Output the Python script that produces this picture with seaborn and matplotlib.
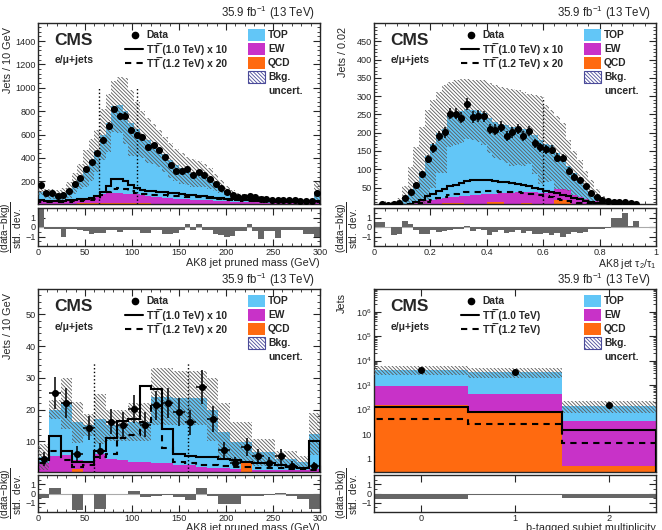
import numpy as np
import matplotlib
matplotlib.use('Agg')
import matplotlib.pyplot as plt
import seaborn as sns
from matplotlib.patches import Rectangle
from matplotlib.ticker import MultipleLocator, FixedLocator, FuncFormatter, NullFormatter

sns.set_style('ticks')
plt.rcParams['font.family'] = ['Liberation Sans', 'DejaVu Sans']
plt.rcParams['mathtext.fontset'] = 'custom'
plt.rcParams['mathtext.rm'] = 'Liberation Sans'
plt.rcParams['mathtext.it'] = 'Liberation Sans:italic'
plt.rcParams['mathtext.bf'] = 'Liberation Sans:bold'
plt.rcParams['hatch.linewidth'] = 0.6

c_top = '#62c6f7'
c_ew = '#c832c8'
c_qcd = '#ff6a10'
c_hatch = '#5a5a5a'
c_ratio = '#666666'
hatch_pat = '\\' * 9

# ---------------- panel 1 : pruned mass, 6 GeV bins
edges_p1 = np.linspace(0, 300, 51)
data_p1 = [166,100,100,75,80,118,172,231,302,365, 438,555,677,818,756,762,640,597,577,492,
           506,464,407,336,288,288,308,251,280,251, 217,180,146,109,81,67,67,70,61,52,
           44,41,38,38,38,35,33,33,33,100]
stack_top_p1 = [110,95,90,85,90,125,180,240,310,380, 460,600,700,840,850,800,700,650,600,550,
                520,480,430,380,340,310,290,270,260,250, 220,190,155,120,90,72,65,60,60,60,
                50,45,40,38,38,36,35,34,35,110]
stack_ew_p1 = [33,33,33,33,33,37,39,45,50,62, 79,90,95,97,97,94,91,87,81,75,
               69,64,60,56,52,49,46,43,40,37, 35,32,30,28,25,23,22,21,20,19,
               17,17,16,16,15,15,14,14,14,25]
stack_qcd_p1 = [8,8,8,8,8,9,9,10,10,12, 14,15,15,15,15,14,13,12,11,10,
                9,9,8,8,7,7,6,6,5,5, 5,4,4,4,3,3,3,3,3,3,
                2,2,2,2,2,2,2,2,2,5]
unc_p1 = [30,40,40,40,50,65,90,110,160,180, 180,220,250,220,240,280,280,230,200,190,
          170,160,150,150,140,130,120,120,110,100, 90,70,55,40,35,28,23,20,18,15,
          12,10,9,8,8,7,7,7,7,80]
sig1_p1 = [35,33,32,32,33,35,40,45,52,60, 75,110,160,220,220,205,170,140,125,120,
           115,110,105,100,95,90,85,80,75,70, 65,60,55,50,46,42,38,35,33,31,
           30,29,28,27,26,25,24,24,23,30]
sig2_p1 = [25,24,23,23,24,25,28,30,35,40, 50,80,105,135,140,135,120,100,92,88,
           85,82,80,77,74,71,68,65,62,59, 55,51,47,43,40,37,34,31,29,27,
           26,25,24,23,22,21,20,20,19,22]
ratio_p1 = [1.9,-0.2,-0.2,-0.2,-1.1,-0.2,-0.2,-0.3,-0.4,-0.7, -0.6,-0.6,-0.3,-0.3,-0.5,-0.3,-0.3,-0.3,-0.6,-0.6,
            -0.3,-0.3,-0.7,-0.7,-0.6,-0.3,0.3,-0.3,0.3,-0.3, -0.3,-0.7,-0.8,-1.0,-0.9,-0.4,-0.4,0.3,-0.4,-1.3,
            -0.4,-0.4,-1.2,-0.3,-0.3,-0.3,-0.3,-0.7,-0.7,-1.0]
cuts_p1 = [65, 105]

# ---------------- panel 2 : tau2/tau1, 0.02 bins
edges_p2 = np.linspace(0, 1, 51)
data_p2 = [0,5,3,6,9,22,39,57,86,128, 158,192,201,252,252,241,278,243,246,245,
           210,208,216,192,201,210,192,205,171,160, 155,153,132,130,96,80,71,53,34,25,
           16,12,11,10,11,8,5,0,0,0]
stack_top_p2 = [1,3,4,8,12,25,42,62,92,135, 170,200,210,250,255,260,265,262,260,255,
                240,230,225,220,215,215,210,210,195,180, 170,165,145,135,110,90,75,55,38,28,
                18,13,10,8,7,6,4,2,1,0.5]
stack_ew_p2 = [0.5,1,1.5,2,4,6,9,12,14,16, 17,19,21,23,25,27,28,29,30,31,
               32,33,34,35,36,37,38,39,38,35, 34,36,45,46,44,30,25,18,14,12,
               9,7,5,4,3,2,1.5,1,0.5,0.3]
stack_qcd_p2 = [0,0,0,0,0,0,0,0,2,2, 2,2,9,9,9,9,2,2,2,2,
                10,10,10,2,2,2,8,8,2,2, 2,2,17,17,17,2,2,2,2,2,
                2,0,0,0,0,0,0,0,0,0]
unc_p2 = [1,3,4,6,10,28,65,100,123,127, 120,110,120,90,90,87,82,83,85,88,
          95,100,100,102,105,103,100,95,107,120, 105,97,100,91,70,60,51,40,32,17,
          10,5,2,2,2,2,2,1,1,0.5]
sig1_p2 = [0,0,0.5,1,1.5,3,6,10,17,27, 33,40,47,53,58,63,67,70,72,72,
           71,69,66,64,62,60,57,53,49,45, 41,38,34,30,26,22,18,14,11,8,
           6,4,2.5,1.5,1,0.5,0.5,0.5,0.5,0.5]
sig2_p2 = [0,0,0,0,0,1,2,4,7,11, 16,21,25,29,32,35,37,38,39,40,
           40,40,39,39,38,37,35,33,31,29, 26,23,20,17,14,11,8,6,4,3,
           2,1,0.5,0.5,0.5,0.5,0.5,0.5,0.5,0.5]
ratio_p2 = [0.5,0.5,0.0,-0.8,-0.7,0.6,0.3,-0.3,-0.7,-0.7, -0.3,-0.5,-0.4,-0.3,-0.2,-0.2,0.1,-0.4,-0.2,-0.3,
            -0.8,-0.5,-0.3,-0.6,-0.5,-0.3,-0.6,-0.4,-0.7,-0.7, -0.6,-0.8,-0.6,-1.1,-0.7,-0.5,-0.6,-0.5,-0.2,-0.2,
            -0.2,-0.1,1.0,1.0,1.5,0.1,0.6,0.0,0.0,0.0]
cuts_p2 = [0.6]

# ---------------- panel 3 : pruned mass, 12 GeV bins
edges_p3 = np.linspace(0, 300, 26)
data_p3 = [4.4,25.2,22.1,6.0,14.1,6.9,16.2,15.2,20.2,15.2, 21.3,22.1,19.2,16.0,27.1,17.1,7.1,3.2,8.1,5.2,
           3.2,5.2,2.3,0,2.1]
stack_top_p3 = [5,20,22,16,15,17,15,15,16,16, 24,24,23.5,23.5,23.5,20,13,9.7,9.7,6.5,
                6.5,4.4,4.4,3.3,12.3]
stack_ew_p3 = [3,5.5,5.8,4,3,6,4.5,4,3.5,3.5, 3,3,2.5,2.5,2,1.5,1.5,1.2,3.5,1,
               1,1,0.8,0.8,1.2]
stack_qcd_p3 = [0.1,0.1,0.1,1.2,0.1,0.1,0.1,0.1,0.1,0.1, 0.1,0.1,0.1,0.1,0.1,0.1,0.1,0.1,3.0,0.1,
                0.1,0.1,0.1,0.1,0.1]
unc_p3 = [4,3,8,6.5,3.5,8,5,5,6,6, 9,9,8.5,8.5,8.5,10,9,6.3,6.3,4.2, 4.2,2.6,2.6,2.2,6.7]
sig1_p3 = [4.5,11.5,7,3.5,3.5,7,11,16.5,17,27.5, 26.5,14,6,5.5,5,5,4.5,4,3.5,3, 3,2.5,2,1.5,10]
sig2_p3 = [3,6.8,4,2,2.5,5,6,11,12,16, 21,8,3.5,3,2.5,2.5,2.2,2,1.8,1.5, 1.5,1.5,1.3,1.2,1]
ratio_p3 = [-0.5,0.6,-0.05,-1.8,0.0,-1.7,-0.1,-0.1,0.3,-0.4, -0.3,-0.2,-0.4,-0.7,0.6,-0.3,-1.1,-1.1,-0.3,-0.3,
            -0.2,0.1,-0.3,-0.6,-1.7]
cuts_p3 = [60, 160]

# ---------------- panel 4 : b-tagged subjet multiplicity
edges_p4 = np.array([-0.5, 0.5, 1.5, 2.5])
data_p4 = [4150, 3530, 155]
stack_top_p4 = [4300, 3400, 145]
stack_ew_p4 = [910, 413, 35]
stack_qcd_p4 = [160, 75, 0.5]
unc_p4 = [1700, 1500, 70]
sig1_p4 = [125, 78, 14.5]
sig2_p4 = [40, 26, 4.5]
ratio_p4 = [-0.6, -0.12, -0.45]

W, H = 662, 530
fig = plt.figure(figsize=(6.62, 5.30), dpi=100)


def px_axes(x0, y0, x1, y1):
    return fig.add_axes([x0 / W, 1 - y1 / H, (x1 - x0) / W, (y1 - y0) / H])


def style_ticks(ax):
    ax.tick_params(which='both', direction='in', top=True, right=True, labelsize=6.6, pad=1.5)
    ax.tick_params(which='major', length=5, width=0.8)
    ax.tick_params(which='minor', length=2.5, width=0.6)
    for s in ax.spines.values():
        s.set_linewidth(1.0)


def draw_panel(ax, axr, edges, data, st_top, st_ew, st_qcd, unc, sig1, sig2, ratio,
               ylim, xlim, cuts=None, cut_h=None, xerr=True, log=False):
    edges = np.asarray(edges, float)
    centers = 0.5 * (edges[:-1] + edges[1:])
    if log:
        ax.set_yscale('log')
    # stacked backgrounds: each layer drawn at its visible top edge
    for vals, col in [(st_top, c_top), (st_ew, c_ew), (st_qcd, c_qcd)]:
        sns.histplot(x=centers, weights=vals, bins=list(edges), element='step', fill=True,
                     color=col, alpha=1, linewidth=0, ax=ax)
    top = np.asarray(st_top, float)
    u = np.asarray(unc, float)
    low = np.maximum(top - u, ylim[0] * 0.5)
    ax.stairs(top + u, edges, baseline=low, fill=True, facecolor='none',
              edgecolor=c_hatch, hatch=hatch_pat, linewidth=0, zorder=3)
    ax.stairs(sig1, edges, color='k', lw=1.5, zorder=4)
    ax.stairs(sig2, edges, color='k', lw=1.5, ls=(0, (3, 2.5)), zorder=4)
    d = np.asarray(data, float)
    m = d > 0
    ax.errorbar(centers[m], d[m], yerr=np.sqrt(d[m]),
                xerr=(np.diff(edges)[m] / 2 if xerr else None),
                fmt='none', ecolor='k', elinewidth=1.1, capsize=0, zorder=5)
    sns.scatterplot(x=centers[m], y=d[m], color='k', s=26, edgecolor='k', linewidth=0,
                    zorder=6, ax=ax)
    if cuts:
        ax.vlines(cuts, ylim[0], cut_h, colors='k', linestyles=':', lw=1.0, zorder=4)
    ax.set_xlim(xlim)
    ax.set_ylim(ylim)
    ax.set_xlabel('')
    ax.set_ylabel('')
    ax.xaxis.set_major_formatter(NullFormatter())
    style_ticks(ax)

    axr.axhline(0, color='#aaaaaa', lw=0.8, zorder=1)
    axr.stairs(ratio, edges, baseline=0, fill=True, color=c_ratio, zorder=2)
    axr.set_xlim(xlim)
    axr.set_ylim(-2, 2)
    axr.yaxis.set_major_locator(FixedLocator([-1, 0, 1]))
    axr.yaxis.set_major_formatter(FuncFormatter(lambda v, p: f'{v:g}'.replace('-', '\u2212')))
    axr.yaxis.set_minor_locator(MultipleLocator(0.5))
    style_ticks(axr)
    axr.set_ylabel(r'$\dfrac{\mathrm{(data\!-\!bkg)}}{\mathrm{std.\ dev.}}$', fontsize=7.3)
    axr.yaxis.set_label_coords(-0.05, 0.5)


def decorate(ax, tt_labels, lumi_y=1.006):
    ax.text(0.982, lumi_y, r'35.9 fb$^{-1}$ (13 TeV)', transform=ax.transAxes,
            ha='right', va='bottom', fontsize=8.3)
    ax.text(0.058, 0.945, 'CMS', transform=ax.transAxes, ha='left', va='top',
            fontsize=12.5, fontweight='bold')
    ax.text(0.058, 0.795, 'e/\u03bc+jets', transform=ax.transAxes, ha='left', va='center',
            fontsize=7.5, fontweight='bold')
    # legend rows, 14 px apart starting 12 px below the frame
    hpx = ax.get_position().height * H
    rows = [1 - (12 + 14 * i) / hpx for i in range(5)]
    tr = ax.transAxes
    txt = dict(transform=tr, ha='left', va='center', fontsize=7.4, fontweight='bold')
    ax.plot([0.345], [rows[0]], 'o', color='k', ms=4.5, transform=tr, clip_on=False)
    ax.plot([0.31, 0.372], [rows[1]] * 2, color='k', lw=1.5, transform=tr, clip_on=False)
    ax.plot([0.31, 0.372], [rows[2]] * 2, color='k', lw=1.5, ls=(0, (3, 2.5)),
            transform=tr, clip_on=False)
    for lab, y in zip(['Data'] + tt_labels, rows[:3]):
        ax.text(0.386, y, lab, **txt)
    bh = 12 / hpx
    for col, lab, y in zip([c_top, c_ew, c_qcd], ['TOP', 'EW', 'QCD'], rows[:3]):
        ax.add_patch(Rectangle((0.745, y - bh / 2), 0.06, bh, facecolor=col,
                               edgecolor='none', transform=tr))
        ax.text(0.816, y, lab, **txt)
    ax.add_patch(Rectangle((0.745, rows[3] - bh / 2), 0.06, bh, facecolor='white',
                           edgecolor='#4a4a99', hatch=hatch_pat, lw=0.8, transform=tr))
    ax.text(0.816, rows[3], 'Bkg.', **txt)
    ax.text(0.816, rows[4], 'uncert.', **txt)


# T-Tbar written with a combining overline on the second T
TTbar = 'TT\u0305'
tt_scaled = [TTbar + ' (1.0 TeV) x 10', TTbar + ' (1.2 TeV) x 20']
tt_plain = [TTbar + ' (1.0 TeV)', TTbar + ' (1.2 TeV)']

# panel 1
ax1 = px_axes(38, 23, 320, 204)
ax1r = px_axes(38, 208, 320, 246)
draw_panel(ax1, ax1r, edges_p1, data_p1, stack_top_p1, stack_ew_p1, stack_qcd_p1, unc_p1,
           sig1_p1, sig2_p1, ratio_p1, ylim=(5, 1555), xlim=(0, 300), cuts=cuts_p1, cut_h=1000)
ax1.yaxis.set_major_locator(FixedLocator([200, 400, 600, 800, 1000, 1200, 1400]))
ax1.yaxis.set_minor_locator(MultipleLocator(40))
ax1.xaxis.set_minor_locator(MultipleLocator(10))
ax1r.xaxis.set_major_locator(MultipleLocator(50))
ax1r.xaxis.set_minor_locator(MultipleLocator(10))
ax1.set_ylabel('Jets / 10 GeV', loc='top', fontsize=7.8)
ax1.yaxis.set_label_coords(-0.09, 0.98)
ax1r.set_xlabel('AK8 jet pruned mass (GeV)', loc='right', fontsize=7.8)
ax1r.xaxis.set_label_coords(1.0, -0.31)
decorate(ax1, tt_scaled)

# panel 2
ax2 = px_axes(374, 23, 656, 204)
ax2r = px_axes(374, 208, 656, 246)
draw_panel(ax2, ax2r, edges_p2, data_p2, stack_top_p2, stack_ew_p2, stack_qcd_p2, unc_p2,
           sig1_p2, sig2_p2, ratio_p2, ylim=(5, 500), xlim=(0, 1), cuts=cuts_p2, cut_h=297)
ax2.yaxis.set_major_locator(FixedLocator([50, 100, 150, 200, 250, 300, 350, 400, 450]))
ax2.yaxis.set_minor_locator(MultipleLocator(10))
ax2.xaxis.set_minor_locator(MultipleLocator(0.04))
ax2r.xaxis.set_major_locator(MultipleLocator(0.2))
ax2r.xaxis.set_minor_locator(MultipleLocator(0.04))
ax2r.xaxis.set_major_formatter(FuncFormatter(lambda v, p: f'{v:g}'))
ax2.set_ylabel('Jets / 0.02', loc='top', fontsize=7.8)
ax2.yaxis.set_label_coords(-0.092, 0.98)
ax2r.set_xlabel(r'AK8 jet $\mathrm{\tau_2/\tau_1}$', loc='right', fontsize=7.6)
ax2r.xaxis.set_label_coords(1.0, -0.29)
decorate(ax2, tt_scaled)

# panel 3
ax3 = px_axes(38, 289, 320, 472)
ax3r = px_axes(38, 475, 320, 512)
draw_panel(ax3, ax3r, edges_p3, data_p3, stack_top_p3, stack_ew_p3, stack_qcd_p3, unc_p3,
           sig1_p3, sig2_p3, ratio_p3, ylim=(0.3, 58), xlim=(0, 300), cuts=cuts_p3, cut_h=35)
ax3.yaxis.set_major_locator(FixedLocator([10, 20, 30, 40, 50]))
ax3.yaxis.set_minor_locator(MultipleLocator(2))
ax3.xaxis.set_minor_locator(MultipleLocator(10))
ax3r.xaxis.set_major_locator(MultipleLocator(50))
ax3r.xaxis.set_minor_locator(MultipleLocator(10))
ax3.set_ylabel('Jets / 10 GeV', loc='top', fontsize=7.8)
ax3.yaxis.set_label_coords(-0.09, 0.98)
ax3r.set_xlabel('AK8 jet pruned mass (GeV)', loc='right', fontsize=7.8)
ax3r.xaxis.set_label_coords(1.0, -0.3)
decorate(ax3, tt_scaled, lumi_y=1.0)

# panel 4
ax4 = px_axes(374, 289, 656, 472)
ax4r = px_axes(374, 475, 656, 512)
draw_panel(ax4, ax4r, edges_p4, data_p4, stack_top_p4, stack_ew_p4, stack_qcd_p4, unc_p4,
           sig1_p4, sig2_p4, ratio_p4, ylim=(0.28, 8.5e6), xlim=(-0.5, 2.5), xerr=False, log=True)
ax4.yaxis.set_major_locator(FixedLocator([1, 10, 1e2, 1e3, 1e4, 1e5, 1e6]))
ax4.yaxis.set_major_formatter(FuncFormatter(
    lambda v, p: '1' if v == 1 else ('10' if v == 10 else r'$10^{%d}$' % round(np.log10(v)))))
ax4.xaxis.set_major_locator(FixedLocator([0, 1, 2]))
ax4r.xaxis.set_major_locator(FixedLocator([0, 1, 2]))
ax4r.xaxis.set_major_formatter(FuncFormatter(lambda v, p: f'{v:g}'))
ax4.set_ylabel('Jets', loc='top', fontsize=7.8)
ax4.yaxis.set_label_coords(-0.096, 0.98)
ax4r.set_xlabel('b-tagged subjet multiplicity', loc='right', fontsize=7.8)
ax4r.xaxis.set_label_coords(1.0, -0.3)
decorate(ax4, tt_plain, lumi_y=1.0)

fig.savefig('out.png', dpi=100)
